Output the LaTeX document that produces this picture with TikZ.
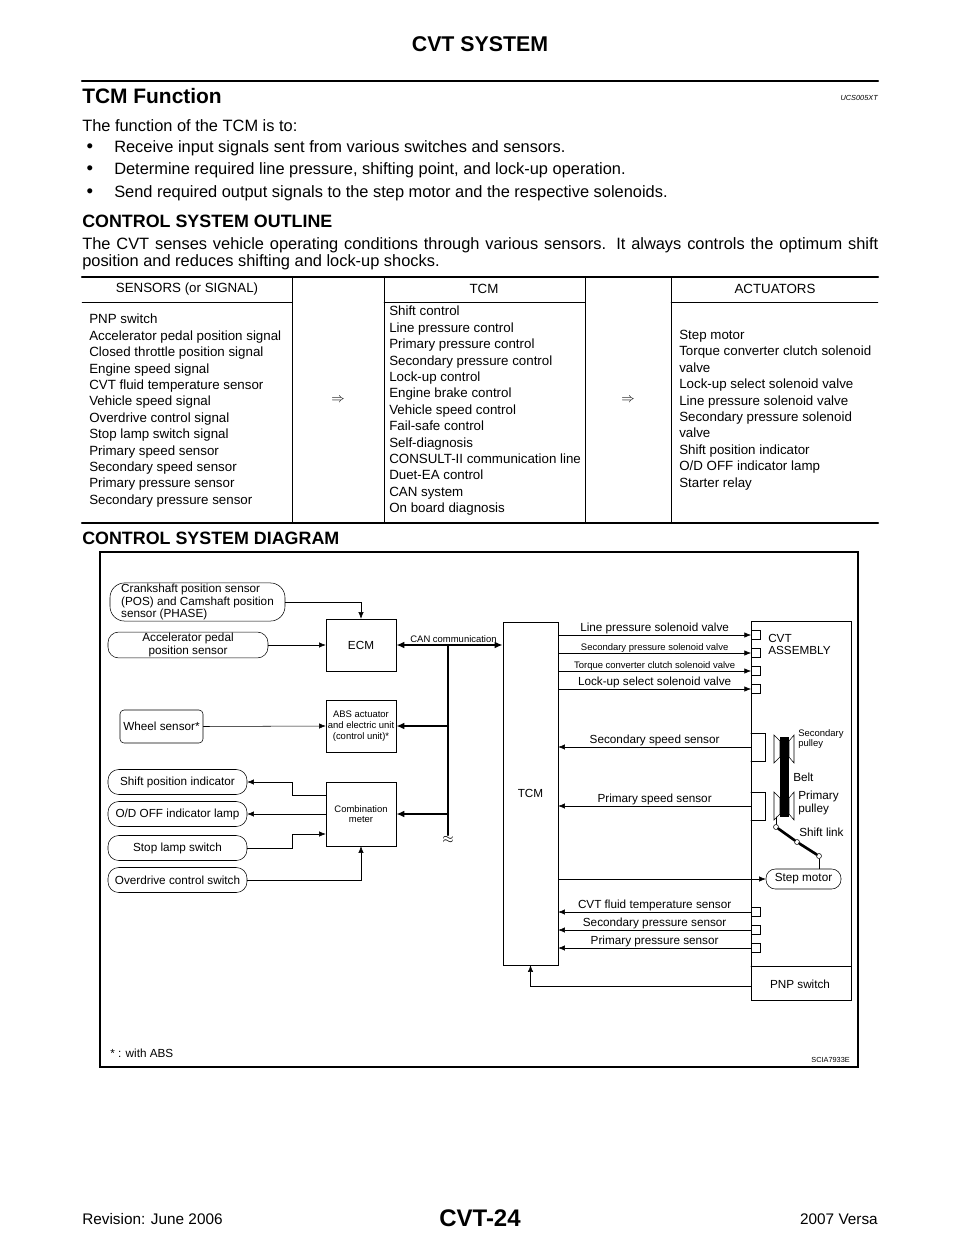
\documentclass[tikz,border=0pt]{standalone}
\usepackage{fontspec}
\setmainfont{Liberation Sans}
\usetikzlibrary{positioning,arrows.meta}

\tikzset{
  rbox/.style={draw, rounded corners=8, inner sep=1pt, align=center, font=\dfont},
  sbox/.style={draw, rectangle, inner sep=1pt, align=center, font=\dfont},
  lbl/.style={inner sep=0pt, font=\dfont},
  sig/.style={-{Latex[length=5,width=4]}},
  bus/.style={line width=1.6, {Latex[length=6,width=5]}-{Latex[length=6,width=5]}},
  tap/.style={line width=1.6, -{Latex[length=6,width=5]}},
  port/.style={draw, minimum width=6.75, minimum height=6.75, inner sep=0pt},
  pin/.style={draw, circle, fill=white, inner sep=0pt, minimum size=3.75},
}
\newcommand{\dfont}{\fontsize{8.8}{9.2}\selectfont}
\newcommand{\cfont}{\fontsize{7.1}{8}\selectfont}
\newcommand{\tfont}{\fontsize{10}{12.3}\selectfont}
\newcommand{\bfont}{\fontsize{12.3}{14}\selectfont}

\begin{document}
\begin{tikzpicture}[x=0.75pt, y=-0.75pt, line cap=round]
		\useasboundingbox (0,0) rectangle (960,1242);

		% Page head
		\node[font=\bfseries\fontsize{16}{18}\selectfont] (head) at (480,44) {CVT SYSTEM};
		\draw[line width=1.6] (82,81) -- (878,81);
		\node[anchor=west, inner sep=0pt, font=\bfseries\fontsize{15.7}{18}\selectfont] (sec) at (82,96) {TCM Function};
		\node[anchor=east, inner sep=0pt, font=\itshape\fontsize{5.5}{6}\selectfont] (code) at (878,98) {UCS005XT};
		\node[anchor=west, inner sep=0pt, font=\bfont] (intro) at (82,126) {The function of the TCM is to:};
		\foreach \y/\t in {148/Receive input signals sent from various switches and sensors.,
		                   170/{Determine required line pressure, shifting point, and lock-up operation.},
		                   193/Send required output signals to the step motor and the respective solenoids.}
		{
			\node[inner sep=0pt, font=\fontsize{14}{14}\selectfont] at (90,\y) {\textbullet};
			\node[anchor=west, inner sep=0pt, font=\bfont] at (114,\y) {\t};
		}
		\node[anchor=west, inner sep=0pt, font=\bfseries\fontsize{13.4}{15}\selectfont] (outl) at (82,221) {CONTROL SYSTEM OUTLINE};
		\node[anchor=north west, inner sep=0pt, text width=597pt, align=justify, font=\fontsize{12.3}{12.8}\selectfont] (para) at (82,237)
			{The CVT senses vehicle operating conditions through various sensors. It always controls the optimum shift position and reduces shifting and lock-up shocks.};

		% Table
		\draw[line width=1.6] (82,277) -- (878,277);
		\draw[line width=1.6] (82,523) -- (878,523);
		\foreach \x in {292,384,585,671} \draw[very thin] (\x,277) -- (\x,523);
		\draw[very thin] (82,302) -- (292,302) (384,302) -- (585,302) (671,302) -- (878,302);
		\node[font=\tfont] at (187,289) {SENSORS (or SIGNAL)};
		\node[font=\tfont] at (484,289) {TCM};
		\node[font=\tfont] at (775,289) {ACTUATORS};
		\node[font=\tfont] at (338,400) {$\Rightarrow$};
		\node[font=\tfont] at (628,400) {$\Rightarrow$};
		\node[anchor=north west, inner sep=0pt, align=left, font=\tfont] (sens) at (89,314) {PNP switch\\Accelerator pedal position signal\\Closed throttle position signal\\Engine speed signal\\CVT fluid temperature sensor\\Vehicle speed signal\\Overdrive control signal\\Stop lamp switch signal\\Primary speed sensor\\Secondary speed sensor\\Primary pressure sensor\\Secondary pressure sensor};
		\node[anchor=north west, inner sep=0pt, align=left, font=\tfont] (ctrl) at (389,306) {Shift control\\Line pressure control\\Primary pressure control\\Secondary pressure control\\Lock-up control\\Engine brake control\\Vehicle speed control\\Fail-safe control\\Self-diagnosis\\CONSULT-II communication line\\Duet-EA control\\CAN system\\On board diagnosis};
		\node[anchor=north west, inner sep=0pt, align=left, font=\tfont] (act) at (679,330) {Step motor\\Torque converter clutch solenoid\\valve\\Lock-up select solenoid valve\\Line pressure solenoid valve\\Secondary pressure solenoid\\valve\\Shift position indicator\\O/D OFF indicator lamp\\Starter relay};

		\node[anchor=west, inner sep=0pt, font=\bfseries\fontsize{13.4}{15}\selectfont] (diag) at (82,538) {CONTROL SYSTEM DIAGRAM};

		% Diagram frame
		\draw[line width=0.9] (100,552) rectangle (858,1067);

		% Left side units
		\node[rbox, minimum width=131.25, minimum height=28.5, align=left, rounded corners=11] (crank) at (197.5,602) {Crankshaft position sensor\\(POS) and Camshaft position\\sensor (PHASE)};
		\node[rbox, minimum width=120, minimum height=18.75] (accel) at (188,645) {Accelerator pedal\\position sensor};
		\node[sbox, rounded corners=3, minimum width=62.25, minimum height=24.75] (wheel) at (161.5,726.5) {Wheel sensor*};
		\node[rbox, minimum width=104.25, minimum height=18.75] (shift) at (177.5,782) {Shift position indicator};
		\node[rbox, minimum width=104.25, minimum height=18.75] (odoff) at (177.5,814) {O/D OFF indicator lamp};
		\node[rbox, minimum width=104.25, minimum height=18.75] (stop) at (177.5,848) {Stop lamp switch};
		\node[rbox, minimum width=104.25, minimum height=18.75] (odsw) at (177.5,880) {Overdrive control switch};

		\node[sbox, minimum width=52.5, minimum height=39] (ecm) at (361,645) {ECM};
		\node[sbox, minimum width=52.5, minimum height=39, font=\cfont] (abs) at (361,726) {ABS actuator\\and electric unit\\(control unit)*};
		\node[sbox, minimum width=52.5, minimum height=48, font=\cfont] (comb) at (361,814) {Combination\\meter};

		\node[sbox, minimum width=41.25, minimum height=257.25] (tcm) at (530.5,793.5) {TCM};
		\node[draw, minimum width=75, minimum height=284.25, inner sep=0pt] (cvt) at (801,810.5) {};
		\draw (751,966) -- (851,966);
		\node[anchor=north west, lbl, align=left] (cvtl) at (768,634) {CVT\\ASSEMBLY};
		\node[lbl] (pnp) at (800,984) {PNP switch};

		% Inputs to ECM / ABS / meter
		\draw[sig] (crank.east) -| (ecm.north);
		\draw[sig] (accel.east) -- (ecm.west);
		\draw[sig] (wheel.east) -- (abs.west);
		\draw[sig] ([yshift=14.25]comb.west) -| (292,782) -- (shift.east);
		\draw[sig] (comb.west) -- (odoff.east);
		\draw[sig] (stop.east) -| (292,834) -- ([yshift=-15]comb.west);
		\draw[sig] (odsw.east) -| (comb.south);

		% CAN line
		\coordinate (bjoin) at (448,645);
		\coordinate (bend) at (448,835);
		\draw[bus] (ecm.east) -- (tcm.west |- ecm.east) node[midway, above=1pt, lbl, font=\cfont, xshift=3] {CAN communication};
		\draw[line width=1.6] (bjoin) -- (bend);
		\draw[tap] (448,726) -- (abs.east);
		\draw[tap] (448,814) -- (comb.east);
		\node[inner sep=0pt, font=\fontsize{11}{11}\selectfont] (cut) at (448,840) {$\approx$};

		% Solenoid valves
		\foreach \y/\n/\t/\f in {635/lp/Line pressure solenoid valve/\dfont,
		                         653/sp/Secondary pressure solenoid valve/\cfont,
		                         671/tc/Torque converter clutch solenoid valve/\cfont,
		                         689/lu/Lock-up select solenoid valve/\dfont}
		{
			\node[port, anchor=west] (\n) at (751,\y) {};
			\draw[sig] (tcm.east |- \n.west) -- (\n.west) node[midway, above=0.5pt, lbl, font=\f] {\t};
		}

		% Sensors in CVT
		\foreach \y/\n/\t in {912/ft/CVT fluid temperature sensor, 930/ps/Secondary pressure sensor, 948/pp/Primary pressure sensor}
		{
			\node[port, anchor=west] (\n) at (751,\y) {};
			\draw[sig] (\n.west) -- (tcm.east |- \n.west) node[midway, above=0.5pt, lbl] {\t};
		}

		% Speed sensors
		\draw (751,733) -| (765,761) -- (751,761);
		\draw (751,792) -| (765,820) -- (751,820);
		\coordinate (sss) at (751,747);
		\coordinate (pss) at (751,806);
		\draw[sig] (sss) -- (tcm.east |- sss) node[midway, above=0.5pt, lbl] {Secondary speed sensor};
		\draw[sig] (pss) -- (tcm.east |- pss) node[midway, above=0.5pt, lbl] {Primary speed sensor};

		% Pulleys and belt
		\fill (780,737) rectangle (789,817);
		\foreach \a in {735,792}
		{
			\draw (774,\a) -- (780,\a+6) -- (780,\a+22) -- (774,\a+28) -- cycle;
			\draw (794,\a) -- (789,\a+6) -- (789,\a+22) -- (794,\a+28) -- cycle;
		}
		\node[anchor=north west, lbl, font=\cfont, align=left] (spl) at (798,729) {Secondary\\pulley};
		\node[anchor=west, lbl] (belt) at (793,777) {Belt};
		\node[anchor=north west, lbl, align=left] (ppl) at (798,791) {Primary\\pulley};
		\node[anchor=west, lbl] (link) at (799,832) {Shift link};

		% Shift link
		\node[pin] (l1) at (776,827) {};
		\node[pin] (l2) at (797,842) {};
		\node[pin] (l3) at (819,856) {};
		\draw[line width=2] (l1) -- (l2) (l2) -- (l3);
		\draw (l1.north) -- (776,817);
		\node[rbox, minimum width=56.25, minimum height=15, rounded corners=7] (step) at (803.5,879) {Step motor};
		\draw (l3.south) -- (l3.south |- step.north);
		\draw[sig] (tcm.east |- step.west) -- (step.west);

		% PNP to TCM
		\draw[sig] (751,986) -| (tcm.south);

		\node[anchor=west, lbl] (note) at (110,1053) {* : with ABS};
		\node[anchor=east, lbl, font=\fontsize{5.5}{6}\selectfont] (fig) at (850,1060) {SCIA7933E};

		% Page foot
		\node[font=\bfseries\fontsize{18}{20}\selectfont] (page) at (480,1218) {CVT-24};
		\node[anchor=west, inner sep=0pt, font=\fontsize{11.5}{13}\selectfont] (rev) at (82,1219) {Revision: June 2006};
		\node[anchor=east, inner sep=0pt, font=\fontsize{11.5}{13}\selectfont] (model) at (878,1219) {2007 Versa};
	\end{tikzpicture}
\end{document}
